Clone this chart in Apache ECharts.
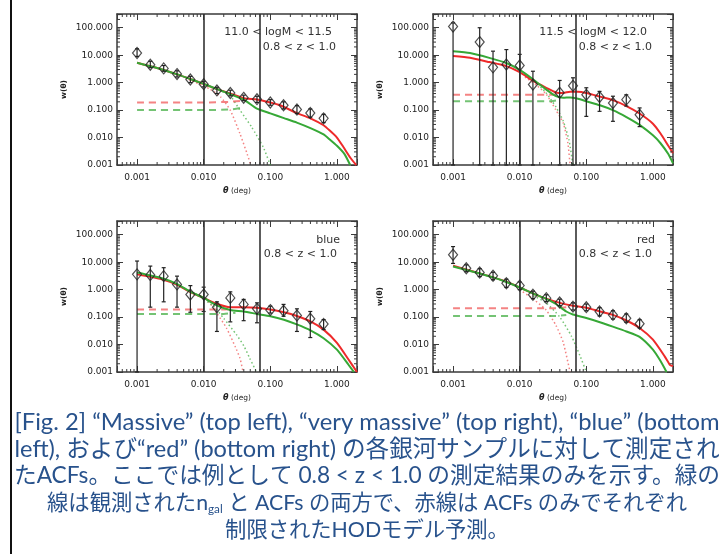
<!DOCTYPE html>
<html><head><meta charset="utf-8">
<script src="https://cdn.jsdelivr.net/npm/echarts@6/dist/echarts.min.js"></script>
<style>html,body{margin:0;padding:0;background:#fff}#c{width:728px;height:554px}</style>
</head><body><div id="c"></div>
<script>
// ---------- axis ranges / ticks ----------
const XMIN = 0.0005, XMAX = 2, YMIN = 0.001, YMAX = 316.2;
const decades = [0.0001, 0.001, 0.01, 0.1, 1, 10, 100];
const minorMult = [2, 3, 4, 5, 6, 7, 8, 9];
const vLines = [0.0066, 0.066];

// ---------- angular bins ----------
const theta = [0.001,0.00158,0.00251,0.00398,0.00631,0.01,0.0158,0.0251,0.0398,0.0631,0.1,0.158,0.251,0.398,0.631];
const theta2 = [0.001,0.00251,0.00398,0.00631,0.01,0.0158,0.0398,0.0631,0.1,0.158,0.251,0.398,0.631];

// ---------- panel 1: 11.0 < logM < 11.5 ----------
const massW  = [12, 4.5, 3.3, 2.05, 1.3, 0.88, 0.52, 0.42, 0.28, 0.25, 0.19, 0.15, 0.105, 0.078, 0.05];
const massLo = [9, 3.5, 2.6, 1.6, 1.0, 0.7, 0.4, 0.33, 0.22, 0.19, 0.15, 0.11, 0.075, 0.055, 0.035];
const massHi = [17, 6, 4.2, 2.7, 1.7, 1.1, 0.68, 0.53, 0.35, 0.32, 0.24, 0.2, 0.145, 0.11, 0.07];
const massRed = [[0.001,5.3],[0.002,3.4],[0.004,2.0],[0.0066,1.3],[0.01,0.9],[0.016,0.58],[0.025,0.4],[0.04,0.27],[0.063,0.245],[0.1,0.19],[0.14,0.15],[0.25,0.078],[0.4,0.05],[0.63,0.028],[0.78,0.018],[1.0,0.01],[1.25,0.0045],[1.6,0.0018],[1.95,0.001]];
const massGreen = [[0.001,5.3],[0.002,3.4],[0.004,2.0],[0.0066,1.3],[0.01,0.9],[0.016,0.58],[0.025,0.38],[0.04,0.24],[0.063,0.113],[0.1,0.076],[0.16,0.051],[0.25,0.035],[0.4,0.022],[0.63,0.013],[0.78,0.0085],[1.0,0.005],[1.3,0.0025],[1.58,0.001]];
const massRedDash = [[0.001,0.19],[0.01,0.19],[0.025,0.2],[0.035,0.215]];
const massGreenDash = [[0.001,0.1],[0.01,0.1],[0.025,0.105],[0.035,0.12]];
const massRedDot = [[0.006,1.3],[0.01,0.75],[0.0125,0.58],[0.018,0.3],[0.025,0.1],[0.035,0.014],[0.045,0.0025],[0.051,0.001]];
const massGreenDot = [[0.01,0.85],[0.018,0.5],[0.025,0.33],[0.035,0.1],[0.0525,0.024],[0.0785,0.0044],[0.1,0.001]];

// ---------- panel 2: 11.5 < logM < 12.0 ----------
const vmW  = [110, 30, 3.6, 4.6, 4.2, 0.85, 0.43, 0.77, 0.36, 0.3, 0.18, 0.24, 0.068];
const vmLo = [0.001,0.001,0.001,0.001,0.001,0.001,0.001,0.001,0.059,0.09,0.039,0.14,0.025];
const vmHi = [150, 100, 14, 16, 10.7, 2.6, 1.2, 1.5, 0.65, 0.48, 0.32, 0.36, 0.12];
const vmRed = [[0.001,9.3],[0.0018,8.0],[0.0035,5.6],[0.0063,4.0],[0.01,2.4],[0.016,1.15],[0.025,0.65],[0.035,0.44],[0.045,0.42],[0.057,0.47],[0.075,0.47],[0.1,0.42],[0.16,0.31],[0.25,0.23],[0.4,0.14],[0.63,0.075],[1.0,0.032],[1.3,0.014],[1.7,0.005],[2.0,0.0027]];
const vmGreen = [[0.001,14],[0.0018,12],[0.0035,8],[0.0063,5.2],[0.01,2.9],[0.016,1.3],[0.025,0.56],[0.035,0.32],[0.045,0.28],[0.057,0.29],[0.075,0.26],[0.1,0.21],[0.16,0.15],[0.25,0.1],[0.4,0.056],[0.63,0.029],[1.0,0.012],[1.3,0.0062],[1.7,0.0025],[2.0,0.00115]];
const vmRedDash = [[0.001,0.36],[0.03,0.36],[0.04,0.38]];
const vmGreenDash = [[0.001,0.21],[0.03,0.21],[0.04,0.24]];
const vmRedDot = [[0.012,1.6],[0.018,0.8],[0.025,0.38],[0.035,0.1],[0.045,0.034],[0.053,0.006],[0.057,0.001]];
const vmGreenDot = [[0.012,2.0],[0.018,0.95],[0.025,0.42],[0.035,0.13],[0.045,0.04],[0.055,0.008],[0.063,0.001]];

// ---------- panel 3: blue ----------
const blueW  = [3.6, 3.4, 3.1, 1.55, 0.66, 0.66, 0.23, 0.5, 0.29, 0.2, 0.18, 0.17, 0.114, 0.087, 0.056];
const blueLo = [0.001, 0.23, 0.36, 0.23, 0.15, 0.16, 0.03, 0.067, 0.074, 0.062, 0.14, 0.107, 0.03, 0.018, 0.035];
const blueHi = [11, 7.2, 6.3, 3.1, 1.4, 1.23, 0.36, 0.83, 0.44, 0.33, 0.25, 0.29, 0.2, 0.16, 0.081];
const blueRed = [[0.001,3.6],[0.0025,2.3],[0.004,1.5],[0.0063,0.82],[0.01,0.5],[0.016,0.3],[0.025,0.23],[0.04,0.23],[0.063,0.22],[0.1,0.19],[0.16,0.15],[0.25,0.11],[0.4,0.07],[0.63,0.035],[1.0,0.0115],[1.5,0.0028],[2.0,0.001]];
const blueGreen = [[0.001,4.2],[0.0025,2.5],[0.004,1.6],[0.0063,0.85],[0.01,0.5],[0.016,0.26],[0.025,0.18],[0.04,0.16],[0.063,0.13],[0.1,0.107],[0.16,0.08],[0.25,0.054],[0.4,0.033],[0.63,0.017],[1.0,0.0065],[1.5,0.0018],[1.8,0.001]];
const blueRedDash = [[0.001,0.19],[0.02,0.19],[0.026,0.2]];
const blueGreenDash = [[0.001,0.13],[0.02,0.13],[0.03,0.145]];
const blueRedDot = [[0.0063,0.75],[0.011,0.44],[0.016,0.13],[0.022,0.04],[0.03,0.008],[0.035,0.0032],[0.039,0.001]];
const blueGreenDot = [[0.008,0.65],[0.014,0.25],[0.02,0.09],[0.031,0.023],[0.04,0.009],[0.049,0.0032],[0.062,0.001]];

// ---------- panel 4: red ----------
const redW  = [18.6, 6.0, 4.2, 3.2, 1.7, 1.4, 0.65, 0.49, 0.34, 0.24, 0.23, 0.16, 0.12, 0.091, 0.057];
const redLo = [9, 4.5, 3, 2.3, 1.2, 1.0, 0.47, 0.37, 0.26, 0.18, 0.17, 0.11, 0.085, 0.065, 0.04];
const redHi = [37, 8, 5.8, 4.3, 2.4, 1.9, 0.88, 0.65, 0.45, 0.33, 0.3, 0.22, 0.17, 0.13, 0.08];
const redRed = [[0.001,7.4],[0.002,4.6],[0.004,2.8],[0.0063,1.95],[0.01,1.2],[0.016,0.72],[0.025,0.47],[0.04,0.33],[0.063,0.26],[0.1,0.22],[0.16,0.16],[0.25,0.12],[0.4,0.075],[0.63,0.04],[1.0,0.015],[1.5,0.0037],[1.8,0.0018],[1.9,0.0017],[2.0,0.0017]];
const redGreen = [[0.001,7.0],[0.002,4.5],[0.004,2.8],[0.0063,1.9],[0.01,1.2],[0.016,0.72],[0.025,0.46],[0.035,0.3],[0.05,0.16],[0.063,0.125],[0.1,0.092],[0.16,0.065],[0.25,0.045],[0.4,0.03],[0.63,0.019],[1.0,0.0065],[1.3,0.0025],[1.6,0.001]];
const redRedDash = [[0.001,0.21],[0.035,0.21],[0.05,0.23]];
const redGreenDash = [[0.001,0.11],[0.035,0.11],[0.05,0.12]];
const redRedDot = [[0.01,1.0],[0.016,0.45],[0.025,0.18],[0.035,0.05],[0.045,0.012],[0.057,0.001]];
const redGreenDot = [[0.016,0.6],[0.025,0.33],[0.04,0.1],[0.06,0.02],[0.08,0.004],[0.1,0.001]];

// ---------- annotations ----------
const panelLabels = [
  ['11.0 < logM < 11.5', '0.8 < z < 1.0'],
  ['11.5 < logM < 12.0', '0.8 < z < 1.0'],
  ['blue', '0.8 < z < 1.0'],
  ['red', '0.8 < z < 1.0']
];
const captionLines = [
  '[Fig. 2] “Massive” (top left), “very massive” (top right), “blue” (bottom',
  'left), および“red” (bottom right) の各銀河サンプルに対して測定され',
  'たACFs。ここでは例として 0.8 < z < 1.0 の測定結果のみを示す。緑の',
  '線は観測されたn{sub|gal} と ACFs の両方で、赤線は ACFs のみでそれぞれ',
  '制限されたHODモデル予測。'
];

// ---------- build ----------
const panels = [
  {x: theta,  w: massW, lo: massLo, hi: massHi, red: massRed, green: massGreen, rDash: massRedDash, gDash: massGreenDash, rDot: massRedDot, gDot: massGreenDot},
  {x: theta2, w: vmW,   lo: vmLo,   hi: vmHi,   red: vmRed,   green: vmGreen,   rDash: vmRedDash,   gDash: vmGreenDash,   rDot: vmRedDot,   gDot: vmGreenDot},
  {x: theta,  w: blueW, lo: blueLo, hi: blueHi, red: blueRed, green: blueGreen, rDash: blueRedDash, gDash: blueGreenDash, rDot: blueRedDot, gDot: blueGreenDot},
  {x: theta,  w: redW,  lo: redLo,  hi: redHi,  red: redRed,  green: redGreen,  rDash: redRedDash,  gDash: redGreenDash,  rDot: redRedDot,  gDot: redGreenDot}
];
const gridPos = [{left:117, top:14}, {left:433, top:14}, {left:117, top:221}, {left:433, top:221}];
const labelPos = [
  [[332, 32], [336, 47]],
  [[647, 32], [652, 47]],
  [[340, 240], [337, 254]],
  [[655, 240], [652, 254]]
];

const AX = '#3a3a3a';
const RED = '#ee2a2a', GREEN = '#36a836';
const RED_L = 'rgba(240,90,90,0.75)', GREEN_L = 'rgba(70,175,70,0.75)';
const FONT = '"DejaVu Sans", sans-serif';

function decadeLabel(v) {
  const l = Math.log10(v);
  return Math.abs(l - Math.round(l)) < 1e-6 ? v.toFixed(3) : '';
}

const minorX = [], minorY = [];
decades.forEach(d => minorMult.forEach(m => {
  const v = +(d * m).toPrecision(6);
  if (v > XMIN && v < XMAX) minorX.push([v, YMIN, 0]);
  if (v > YMIN && v < YMAX) minorY.push([XMIN, v, 1]);
}));
const minorData = minorX.concat(minorY);

function minorRender(params, api) {
  const kind = api.value(2);
  const style = {stroke: AX, lineWidth: 1};
  if (kind === 0) {
    const v = api.value(0);
    const b = api.coord([v, YMIN]), t = api.coord([v, YMAX]);
    return {type: 'group', children: [
      {type: 'line', shape: {x1: b[0], y1: b[1], x2: b[0], y2: b[1] - 3}, style},
      {type: 'line', shape: {x1: t[0], y1: t[1], x2: t[0], y2: t[1] + 3}, style}
    ]};
  }
  const v = api.value(1);
  const l = api.coord([XMIN, v]), r = api.coord([XMAX, v]);
  return {type: 'group', children: [
    {type: 'line', shape: {x1: l[0], y1: l[1], x2: l[0] + 3, y2: l[1]}, style},
    {type: 'line', shape: {x1: r[0], y1: r[1], x2: r[0] - 3, y2: r[1]}, style}
  ]};
}

function errRender(params, api) {
  const x = api.value(0), lo = api.value(2), hi = api.value(3);
  const a = api.coord([x, lo]), b = api.coord([x, hi]);
  const style = {stroke: '#222', lineWidth: 1.2};
  const c = 2;
  return {type: 'group', children: [
    {type: 'line', shape: {x1: a[0], y1: a[1], x2: b[0], y2: b[1]}, style},
    {type: 'line', shape: {x1: b[0] - c, y1: b[1], x2: b[0] + c, y2: b[1]}, style},
    {type: 'line', shape: {x1: a[0] - c, y1: a[1], x2: a[0] + c, y2: a[1]}, style}
  ]};
}

const grid = [], xAxis = [], yAxis = [], series = [], graphic = [];
gridPos.forEach((g, i) => {
  grid.push({left: g.left, top: g.top, width: 240, height: 151, containLabel: false});
  const tick = {show: true, inside: true, length: 6, lineStyle: {color: AX, width: 1}};
  const line = {show: true, onZero: false, lineStyle: {color: AX, width: 1.5}};
  xAxis.push({type: 'log', gridIndex: i, min: XMIN, max: XMAX, position: 'bottom',
    axisLine: line, axisTick: tick, splitLine: {show: false},
    axisLabel: {formatter: decadeLabel, fontSize: 9, color: '#222', margin: 8, fontFamily: FONT},
    name: '{i|θ} (deg)', nameLocation: 'middle', nameGap: 22,
    nameTextStyle: {fontSize: 7.5, color: '#222', fontFamily: FONT, rich: {i: {fontStyle: 'italic', fontWeight: 'bold', fontSize: 8, fontFamily: FONT}}}});
  xAxis.push({type: 'log', gridIndex: i, min: XMIN, max: XMAX, position: 'top',
    axisLine: line, axisTick: tick, splitLine: {show: false}, axisLabel: {show: false}});
  yAxis.push({type: 'log', gridIndex: i, min: YMIN, max: YMAX, position: 'left',
    axisLine: line, axisTick: tick, splitLine: {show: false},
    axisLabel: {formatter: decadeLabel, fontSize: 9, color: '#222', margin: 4, fontFamily: FONT},
    name: 'w(θ)', nameLocation: 'middle', nameGap: 49,
    nameTextStyle: {fontSize: 7.5, fontWeight: 'bold', color: '#222', fontFamily: FONT}});
  yAxis.push({type: 'log', gridIndex: i, min: YMIN, max: YMAX, position: 'right',
    axisLine: line, axisTick: tick, splitLine: {show: false}, axisLabel: {show: false}});

  const p = panels[i];
  const ax = {xAxisIndex: 2 * i, yAxisIndex: 2 * i, silent: true, animation: false};
  const ln = (data, color, width, type, z) => Object.assign({type: 'line', data, showSymbol: false, smooth: 0.2,
    lineStyle: {color, width, type}, z}, ax);
  series.push(ln(p.rDot, RED_L, 1.5, [1.5, 2.5], 2));
  series.push(ln(p.gDot, GREEN_L, 1.5, [1.5, 2.5], 2));
  series.push(ln(p.rDash, RED_L, 2, [7, 5], 2));
  series.push(ln(p.gDash, GREEN_L, 2, [7, 5], 2));
  series.push(ln(p.red, RED, 2, 'solid', 3));
  series.push(ln(p.green, GREEN, 2, 'solid', 3));
  series.push(Object.assign({type: 'custom', renderItem: errRender, z: 4,
    data: p.x.map((x, k) => [x, p.w[k], p.lo[k], p.hi[k]]), encode: {x: 0, y: 1}}, ax));
  series.push(Object.assign({type: 'scatter', z: 5, symbol: 'diamond', symbolSize: [9, 11],
    itemStyle: {color: 'rgba(255,255,255,0)', borderColor: '#222', borderWidth: 1.2},
    data: p.x.map((x, k) => [x, p.w[k]]),
    markLine: {silent: true, symbol: 'none', label: {show: false}, animation: false,
      lineStyle: {color: '#333', width: 1.6, type: 'solid'},
      data: vLines.map(v => ({xAxis: v}))}}, ax));
  series.push(Object.assign({type: 'custom', renderItem: minorRender, z: 6, data: minorData, encode: {x: 0, y: 1}}, ax));

  panelLabels[i].forEach((t, k) => {
    graphic.push({type: 'text', x: labelPos[i][k][0], y: labelPos[i][k][1], silent: true,
      style: {text: t, fill: '#333', fontSize: 11, fontFamily: FONT, align: 'right', verticalAlign: 'middle',
        textAlign: 'right', textVerticalAlign: 'middle'}});
  });
});

// caption, each line fitted to its width in the text block
const CAP_FONT = 'Lato, "Noto Sans CJK JP", sans-serif';
const ctx = document.createElement('canvas').getContext('2d');
ctx.font = '24px ' + CAP_FONT;
function lineWidth24(t) {
  const m = t.match(/^(.*)\{sub\|(.*?)\}(.*)$/);
  if (!m) return ctx.measureText(t).width;
  return ctx.measureText(m[1] + m[3]).width + 0.55 * ctx.measureText(m[2]).width;
}
const captionTarget = [705, 705, 705, 640, null];
const captionY = [422, 449, 476, 503, 530];
let lastSize = 22;
captionLines.forEach((t, k) => {
  const size = captionTarget[k] ? Math.round(24 * captionTarget[k] / lineWidth24(t) * 10) / 10 : lastSize;
  lastSize = size;
  graphic.push({type: 'text', x: 367, y: captionY[k], silent: true,
    style: {text: t, fill: '#28528c', fontSize: size, fontFamily: CAP_FONT,
      align: 'center', verticalAlign: 'middle', textAlign: 'center', textVerticalAlign: 'middle',
      rich: {sub: {fontSize: size * 0.55, fontFamily: CAP_FONT, fill: '#28528c', padding: [size * 0.6, 0, 0, 0]}}}});
});
graphic.push({type: 'rect', shape: {x: 10, y: 0, width: 2, height: 554}, style: {fill: '#111'}, silent: true});

const chart = echarts.init(document.getElementById('c'), null, {renderer: 'canvas'});
chart.setOption({animation: false, backgroundColor: '#fff', textStyle: {fontFamily: FONT},
  grid, xAxis, yAxis, series, graphic});
</script>
</body></html>
